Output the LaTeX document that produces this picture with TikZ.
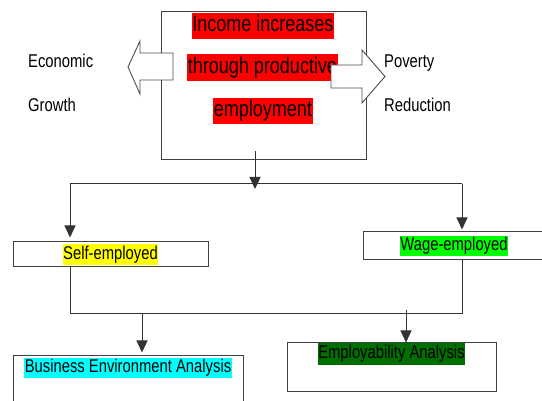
\documentclass[tikz,border=0pt]{standalone}
\usepackage{fontspec}
\setmainfont[FakeStretch=0.8]{Liberation Sans}
\usetikzlibrary{arrows.meta}
\definecolor{hlred}{RGB}{255,0,0}
\definecolor{hlyellow}{RGB}{255,255,0}
\definecolor{hlgreen}{RGB}{0,255,0}
\definecolor{hlcyan}{RGB}{0,255,255}
\definecolor{hldark}{RGB}{0,110,0}
\newcommand\normaltxt{\fontsize{18.5pt}{22pt}\selectfont}
\newcommand\bigtxt{\fontsize{22.5pt}{27pt}\selectfont}
\tikzset{
  box/.style={draw=black!75,line width=1pt,fill=white,inner sep=0pt},
  hl/.style={inner xsep=0.5pt,inner ysep=1.8pt,text height=13.3pt,text depth=3.9pt,font=\normaltxt},
  hlbig/.style={inner xsep=0.5pt,inner ysep=2.8pt,text height=16.2pt,text depth=4.7pt,font=\bigtxt,fill=hlred},
  lbl/.style={anchor=base west,inner sep=0pt,font=\normaltxt},
  conn/.style={draw=black!80,line width=1pt},
  arr/.style={conn,-{Triangle[width=11pt,length=12pt]}},
  fatarrow/.style={draw=black!70,line width=0.9pt,fill=white,line join=miter}
}
\begin{document}
\begin{tikzpicture}[x=1pt,y=-1pt]
\useasboundingbox (0,0) rectangle (542,401);
\clip (0,0) rectangle (542,401);
\node[box,minimum width=205,minimum height=148] (main) at (263.5,86) {};
\node[hlbig] (inc) at (263,26) {Income increases};
\node[hlbig] (thr) at (262.5,67.5) {through productive};
\node[hlbig] (emplt) at (263,111) {employment};
\draw[fatarrow] (173,53) -- (140,53) -- (140,41) -- (128,67) -- (140,94) -- (140,80) -- (173,80) -- cycle;
\draw[fatarrow] (331,65) -- (362,65) -- (362,50) -- (385,76.5) -- (362,103) -- (362,88) -- (331,88) -- cycle;
\node[lbl] (econ) at (28,68) {Economic};
\node[lbl] (grow) at (28,112) {Growth};
\node[lbl] (pov) at (384,68) {Poverty};
\node[lbl] (redu) at (384,112) {Reduction};
\node[box,minimum width=195,minimum height=25] (self) at (110.5,254.5) {};
\node[hl,fill=hlyellow] (selftxt) at (self) {Self-employed};
\node[box,minimum width=182,minimum height=28] (wage) at (454,246) {};
\node[hl,fill=hlgreen] (wagetxt) at (wage) {Wage-employed};
\node[box,minimum width=230,minimum height=50] (bus) at (128,381) {};
\node[hl,fill=hlcyan,anchor=north] (bustxt) at ([yshift=-2]bus.north) {Business Environment Analysis};
\node[box,minimum width=209,minimum height=49] (emp) at (391.5,367.5) {};
\node[hl,fill=hldark,anchor=north,inner ysep=2.5pt] (emptxt) at (emp.north) {Employability Analysis};
\coordinate (top) at (255,184);
\coordinate (tl) at (70,184);
\coordinate (tr) at (462,184);
\coordinate (bl) at (70,314);
\coordinate (br) at (462,314);
\coordinate (bs) at (142,314);
\coordinate (es) at (406,310);
\draw[arr] ([yshift=9]main.south -| top) -- ([yshift=-5]top);
\draw[conn] (tl) -- (tr);
\draw[arr] (tl) -- ([yshift=4]self.north -| tl);
\draw[arr] (tr) -- ([yshift=2]wage.north -| tr);
\draw[conn] (self.south -| bl) -- (bl) -- (br) -- (wage.south -| br);
\draw[arr] (bs) -- ([yshift=3]bus.north -| bs);
\draw[arr] (es) -- (emp.north -| es);
\end{tikzpicture}
\end{document}
